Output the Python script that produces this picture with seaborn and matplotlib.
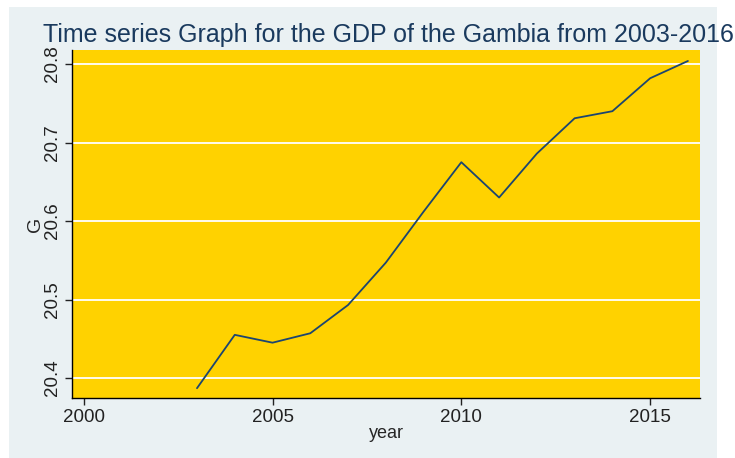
import pandas as pd
import matplotlib
matplotlib.use('Agg')
import matplotlib.pyplot as plt
import seaborn as sns
from matplotlib.patches import Rectangle

# datos
anios = [2003, 2004, 2005, 2006, 2007, 2008, 2009, 2010, 2011, 2012, 2013, 2014, 2015, 2016]
gdp_log = [20.387, 20.455, 20.445, 20.457, 20.493, 20.547, 20.612, 20.675, 20.630,
           20.686, 20.731, 20.740, 20.782, 20.804]
xticks = [2000, 2005, 2010, 2015]
yticks = [20.4, 20.5, 20.6, 20.7, 20.8]

df = pd.DataFrame({'year': anios, 'G': gdp_log})

sns.set_style('white')
plt.rcParams['font.family'] = ['Liberation Sans', 'DejaVu Sans']

navy = '#1a3a5e'
fig = plt.figure(figsize=(7.35, 4.58), dpi=100)
fig.patch.set_facecolor('white')
fig.patches.append(Rectangle((9 / 735, 0), 708 / 735, 1 - 7 / 458, transform=fig.transFigure,
                             facecolor='#eaf1f3', edgecolor='none', zorder=-10))

ax = fig.add_axes([72 / 735, 1 - 398 / 458, 628 / 735, 348 / 458])
ax.set_zorder(1)
ax.set_facecolor('#ffd200')

sns.lineplot(data=df, x='year', y='G', ax=ax, color='#1c4570', linewidth=1.3)

ax.set_xlim(1999.69, 2016.32)
ax.set_ylim(20.3745, 20.818)
ax.set_xticks(xticks)
ax.set_yticks(yticks)
ax.set_yticklabels([f'{v:.1f}' for v in yticks], rotation=90, va='center')
ax.grid(axis='y', color='white', linewidth=1.3)
ax.grid(axis='x', visible=False)

for s in ['top', 'right']:
    ax.spines[s].set_visible(False)
for s in ['left', 'bottom']:
    ax.spines[s].set_color('black')
    ax.spines[s].set_linewidth(1.0)

ax.tick_params(axis='both', which='major', length=5, width=1, labelsize=13.5,
               colors='#222222', left=True, bottom=True, direction='out', pad=3)
ax.set_xlabel('year', fontsize=13, labelpad=-1)
ax.set_ylabel('G', fontsize=14, labelpad=0)

fig.text(43 / 735, 1 - 35 / 458, 'Time series Graph for the GDP of the Gambia from 2003-2016',
         fontsize=18, color=navy, va='center', ha='left', zorder=2)

fig.savefig('out.png', dpi=100, facecolor=fig.get_facecolor())
